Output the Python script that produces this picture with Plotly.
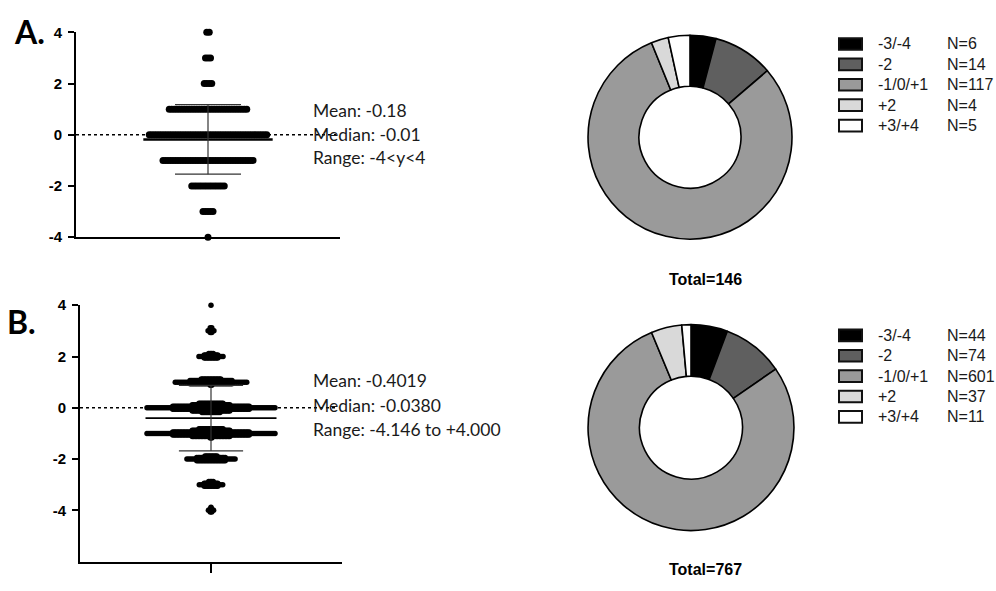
import numpy as np
import plotly.graph_objects as go

W, H = 996, 591

# ---------------- data ----------------
levels = [4, 3, 2, 1, 0, -1, -2, -3, -4]
counts_A = [2, 3, 4, 32, 48, 37, 14, 5, 1]
counts_B = [2, 9, 37, 110, 251, 240, 74, 36, 8]
mean_A, sd_A = -0.18, 1.36
mean_B, sd_B = -0.4019, 1.28
stats_A = ["Mean: -0.18", "Median: -0.01", "Range: -4<y<4"]
stats_B = ["Mean: -0.4019", "Median: -0.0380", "Range: -4.146 to +4.000"]
categories = ["-3/-4", "-2", "-1/0/+1", "+2", "+3/+4"]
pie_A = [6, 14, 117, 4, 5]
pie_B = [44, 74, 601, 37, 11]
totals = ["Total=146", "Total=767"]
yticks = [4, 2, 0, -2, -4]
colors = ["#000000", "#5f5f5f", "#9a9a9a", "#d9d9d9", "#ffffff"]


def px(x):
    return x / W


def py(y):
    return 1 - y / H


# ---------------- swarm layout helpers ----------------
def swarm_A(level, n, ppu_x):
    dx = 2.5 / ppu_x
    offs = (np.arange(n) - (n - 1) / 2) * dx
    return offs, np.full(n, float(level))


def swarm_B(level, n, ppu_x, ppu_y):
    width = min(128.0, 0.65 * n)
    dx = 2.0
    m0 = int(min(n, width / dx + 1))
    xs = list(np.linspace(-width / 2, width / 2, m0)) if m0 > 1 else [0.0]
    ys = [0.0] * m0
    rest = n - m0
    k = 1
    while rest > 0:
        for sgn in (1, -1):
            cap = max(2, int(round(m0 * 0.8 / k)))
            c = min(rest, cap)
            half = (c - 1) * 1.5 / 2
            xs += list(np.linspace(-half, half, c)) if c > 1 else [0.0]
            ys += [sgn * k * 1.6] * c
            rest -= c
            if rest <= 0:
                break
        k += 1
    return np.array(xs) / ppu_x, level + np.array(ys) / ppu_y


fig = go.Figure()

# ---------------- panel A scatter ----------------
ppuA_x = (340 - 76) / 2.0
xa, ya = [], []
for lv, n in zip(levels, counts_A):
    ox, oy = swarm_A(lv, n, ppuA_x)
    xa += list(ox)
    ya += list(oy)
fig.add_trace(go.Scatter(x=xa, y=ya, mode="markers", xaxis="x", yaxis="y",
                         marker=dict(size=7, color="black"), cliponaxis=False,
                         showlegend=False, hoverinfo="skip"))

# ---------------- panel B scatter ----------------
ppuB_x = (342 - 80) / 2.0
ppuB_y = (569 - 305) / 10.0
xb, yb = [], []
for lv, n in zip(levels, counts_B):
    ox, oy = swarm_B(lv, n, ppuB_x, ppuB_y)
    xb += list(ox)
    yb += list(oy)
fig.add_trace(go.Scatter(x=xb, y=yb, mode="markers", xaxis="x2", yaxis="y2",
                         marker=dict(size=5.5, color="black"), cliponaxis=False,
                         showlegend=False, hoverinfo="skip"))


# ---------------- mean / SD lines ----------------
def add_stats(mean, sd, xa_, ya_, mw, cw, lw):
    fig.add_trace(go.Scatter(x=[-mw, mw], y=[mean, mean], mode="lines", xaxis=xa_, yaxis=ya_,
                             line=dict(color="black", width=lw), showlegend=False, hoverinfo="skip"))
    fig.add_trace(go.Scatter(x=[0, 0], y=[mean - sd, mean + sd], mode="lines", xaxis=xa_, yaxis=ya_,
                             line=dict(color="#333333", width=1.2), showlegend=False, hoverinfo="skip"))
    for yv in (mean - sd, mean + sd):
        fig.add_trace(go.Scatter(x=[-cw, cw], y=[yv, yv], mode="lines", xaxis=xa_, yaxis=ya_,
                                 line=dict(color="#333333", width=1.2), showlegend=False, hoverinfo="skip"))


add_stats(mean_A, sd_A, "x", "y", 0.49, 0.25, 2.5)
add_stats(mean_B, sd_B, "x2", "y2", 0.50, 0.245, 1.6)

# dotted zero lines
for xr, yr in (("x", "y"), ("x2", "y2")):
    fig.add_shape(type="line", xref=xr, yref=yr, x0=-1, x1=0.97, y0=0, y1=0,
                  line=dict(color="black", width=1.5, dash="dot"), layer="below")

# ---------------- donuts ----------------
pie_domains = [
    (dict(x=[px(585), px(795)], y=[py(237), py(27)]), pie_A),
    (dict(x=[px(585), px(797)], y=[py(537), py(325)]), pie_B),
]
for dom, vals in pie_domains:
    fig.add_trace(go.Pie(values=vals, labels=categories, hole=0.5, sort=False,
                         direction="clockwise", rotation=0, textinfo="none",
                         marker=dict(colors=colors, line=dict(color="black", width=1.6)),
                         domain=dom, showlegend=False, hoverinfo="label+value"))

# ---------------- axes ----------------
tickfont = dict(family="Liberation Sans, Arial", size=15, color="black", weight="bold")
common_y = dict(showline=True, linewidth=2, linecolor="black", ticks="outside", ticklen=6,
                tickwidth=2, tickcolor="black", tickvals=yticks, ticktext=[str(t) for t in yticks],
                tickfont=tickfont, showgrid=False, zeroline=False, ticklabelstandoff=3)
fig.update_layout(
    xaxis=dict(domain=[px(76), px(340)], range=[-1, 1], anchor="y", showline=True, linewidth=2,
               linecolor="black", showticklabels=False, ticks="", showgrid=False, zeroline=False),
    yaxis=dict(domain=[py(235), py(24)], range=[-4, 4], anchor="x", **common_y),
    xaxis2=dict(domain=[px(80), px(342)], range=[-1, 1], anchor="y2", showline=True, linewidth=2,
                linecolor="black", ticks="outside", tickvals=[0], ticktext=[""], ticklen=9,
                tickwidth=2, tickcolor="black", showgrid=False, zeroline=False),
    yaxis2=dict(domain=[py(569), py(305)], range=[-6, 4], anchor="x2", **common_y),
)

# ---------------- annotations ----------------
ann = []
statfont = dict(family="Lato, Carlito, sans-serif", size=17.5, color="#1a1a1a")
for texts, ys in ((stats_A, [104, 129, 153]), (stats_B, [383, 408, 433])):
    for t, yy in zip(texts, ys):
        ann.append(dict(x=px(311), y=py(yy), xref="paper", yref="paper", text=t, showarrow=False,
                        xanchor="left", yanchor="middle", font=statfont))

panel_font = dict(family="Lato, sans-serif", size=32, color="black", weight="bold")
ann.append(dict(x=px(29), y=py(23), xref="paper", yref="paper", text="A.", showarrow=False,
                xanchor="center", yanchor="middle", font=panel_font))
ann.append(dict(x=px(21), y=py(322), xref="paper", yref="paper", text="B.", showarrow=False,
                xanchor="center", yanchor="middle", font=panel_font))

totfont = dict(family="Liberation Sans, Arial", size=16, color="black", weight="bold")
for t, yy in zip(totals, [279, 577]):
    ann.append(dict(x=px(705), y=py(yy), xref="paper", yref="paper", text=t, showarrow=False,
                    xanchor="center", yanchor="middle", font=totfont))

# legends
legfont = dict(family="Liberation Sans, Arial", size=16, color="#1a1a1a")
shapes = []
for vals, top in ((pie_A, 36), (pie_B, 336)):
    for i, (cat, v) in enumerate(zip(categories, vals)):
        yc = top + i * 21
        shapes.append(dict(type="rect", xref="paper", yref="paper", x0=px(839), x1=px(862),
                           y0=py(yc + 6), y1=py(yc - 6), fillcolor=colors[i],
                           line=dict(color="#111111", width=2)))
        ann.append(dict(x=px(876), y=py(yc), xref="paper", yref="paper", text=cat, showarrow=False,
                        xanchor="left", yanchor="middle", font=legfont))
        ann.append(dict(x=px(945), y=py(yc), xref="paper", yref="paper", text=f"N={v}",
                        showarrow=False, xanchor="left", yanchor="middle", font=legfont))

fig.update_layout(annotations=ann)
for s in shapes:
    fig.add_shape(**s)

fig.update_layout(width=W, height=H, margin=dict(l=0, r=0, t=0, b=0),
                  paper_bgcolor="white", plot_bgcolor="white")

fig.write_html("out.html",
               config={"displayModeBar": False},
               post_script="document.body.style.margin='0';"
                           "document.documentElement.style.overflow='hidden';"
                           "document.body.style.overflow='hidden';")
